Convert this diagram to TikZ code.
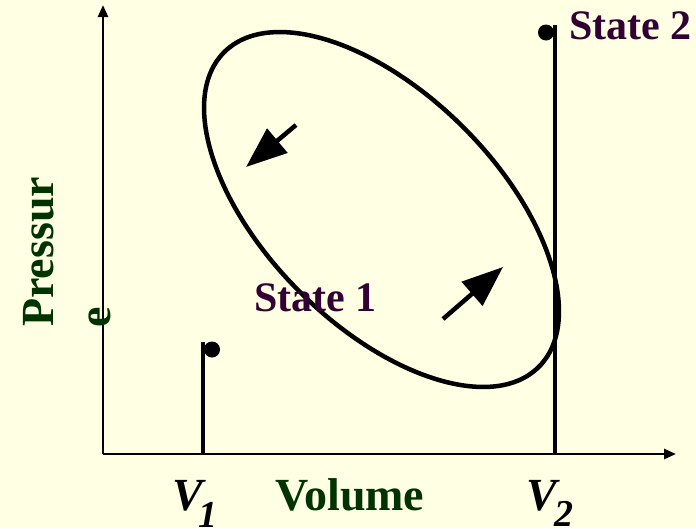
\documentclass[tikz,border=0pt]{standalone}
\usepackage{fontspec}
\setmainfont{Liberation Serif}
\usetikzlibrary{arrows.meta}
\definecolor{bgcol}{RGB}{255,255,227}
\definecolor{statecol}{RGB}{51,0,51}
\definecolor{axcol}{RGB}{0,51,0}
\begin{document}
\begin{tikzpicture}[x=1pt,y=-1pt,
  axisline/.style={line width=2.5pt,-{Triangle[length=12pt,width=10pt]}},
  vline/.style={line width=4pt},
  dotnode/.style={circle,fill=black,inner sep=0pt,minimum size=16pt},
  bigarrow/.style={line width=4.5pt,-{Triangle[length=41pt,width=31pt]}},
  statetxt/.style={text=statecol,font=\fontsize{42}{42}\selectfont\bfseries,inner sep=0pt},
  axtxt/.style={text=axcol,font=\fontsize{46}{46}\selectfont\bfseries,inner sep=0pt},
  vtxt/.style={text=black,font=\fontsize{46}{46}\selectfont\bfseries\itshape,inner sep=0pt},
  subtxt/.style={text=black,font=\fontsize{38}{38}\selectfont\bfseries\itshape,inner sep=0pt}]
\fill[bgcol] (0,0) rectangle (696,528);
\useasboundingbox (0,0) rectangle (696,528);
% axes
\coordinate (O) at (103,454);
\coordinate (ytip) at (103,5);
\coordinate (xtip) at (676,454);
\draw[axisline] (O) -- (ytip);
\draw[axisline] (O) -- (xtip);
% ellipse
\draw[line width=4.5pt, rotate around={-45:(381.5,209.5)}] (381.5,209.5) ellipse [x radius=222.5pt, y radius=116pt];
% V1
\coordinate (v1b) at (203,454);
\coordinate (v1t) at (203,342);
\draw[vline] (v1b) -- (v1t);
\node[dotnode] (d1) at (212,349.5) {};
% V2
\coordinate (v2b) at (555,454);
\coordinate (v2t) at (555,25);
\draw[vline] (v2b) -- (v2t);
\node[dotnode] (d2) at (546,32.5) {};
% arrows
\coordinate (a1s) at (296,125);
\coordinate (a1e) at (246,167);
\draw[bigarrow] (a1s) -- (a1e);
\coordinate (a2s) at (443,319);
\coordinate (a2e) at (503,267);
\draw[bigarrow] (a2s) -- (a2e);
% texts
\node[statetxt,anchor=base west] (s2) at (569,39) {State 2};
\node[statetxt,anchor=base west] (s1) at (254,311) {State 1};
\node[axtxt,anchor=base west] (vol) at (275,510) {Volume};
\node[axtxt,anchor=base west,rotate=90] (pr1) at (53,327) {Pressur};
\node[axtxt,anchor=base west,rotate=90] (pr2) at (110,328) {e};
\node[vtxt,anchor=base west] (V1) at (172,510) {V};
\node[subtxt,anchor=base west] (sub1) at (198,527) {1};
\node[vtxt,anchor=base west] (V2) at (526,510) {V};
\node[subtxt,anchor=base west] (sub2) at (554,526) {2};
\end{tikzpicture}
\end{document}
